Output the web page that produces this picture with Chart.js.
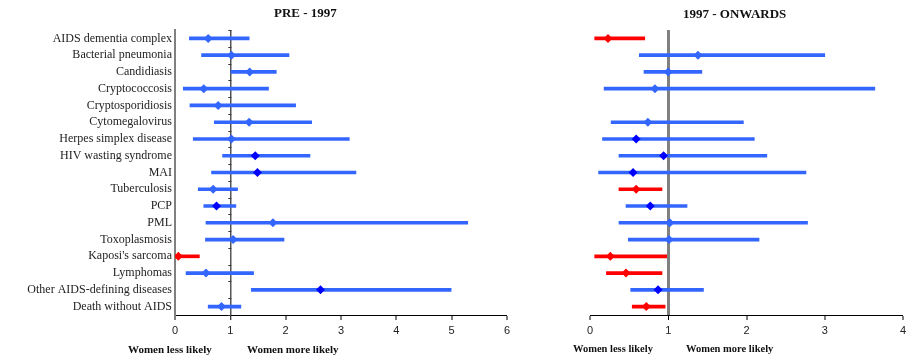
<!DOCTYPE html>
<html>
<head>
<meta charset="utf-8">
<script src="https://cdn.jsdelivr.net/npm/chart.js@4.4.0/dist/chart.umd.min.js"></script>
<style>
  body { margin: 0; background: #fff; }
  #wrap { position: relative; width: 914px; height: 358px; overflow: hidden; }
  canvas { position: absolute; top: 0; }
  .lbl { position: absolute; font-family: "Liberation Serif", serif; font-weight: bold; color: #111; white-space: nowrap; }
</style>
</head>
<body>
<div id="wrap">
  <canvas id="pre" width="560" height="358" style="left:0"></canvas>
  <canvas id="post" width="354" height="358" style="left:560px"></canvas>
  <div class="lbl" style="left:274px; top:5px; font-size:13px;">PRE - 1997</div>
  <div class="lbl" style="left:683px; top:6px; font-size:13px;">1997 - ONWARDS</div>
  <div class="lbl" style="left:128px; top:343px; font-size:11px;">Women less likely</div>
  <div class="lbl" style="left:247px; top:343px; font-size:11px;">Women more likely</div>
  <div class="lbl" style="left:573px; top:343px; font-size:10.5px;">Women less likely</div>
  <div class="lbl" style="left:686px; top:343px; font-size:10.5px;">Women more likely</div>
</div>
<script>
var categories = ["AIDS dementia complex", "Bacterial pneumonia", "Candidiasis", "Cryptococcosis",
  "Cryptosporidiosis", "Cytomegalovirus", "Herpes simplex disease", "HIV wasting syndrome", "MAI",
  "Tuberculosis", "PCP", "PML", "Toxoplasmosis", "Kaposi's sarcoma", "Lymphomas",
  "Other AIDS-defining diseases", "Death without AIDS"];

// pre-1997 relative hazard and 95% CI
var preEst   = [0.60, 1.02, 1.35, 0.52, 0.78, 1.34, 1.02, 1.45, 1.49, 0.69, 0.75, 1.77, 1.05, 0.06, 0.56, 2.63, 0.84];
var preLow   = [0.26, 0.48, 1.01, 0.15, 0.27, 0.71, 0.33, 0.86, 0.66, 0.42, 0.52, 0.56, 0.55, 0.01, 0.20, 1.38, 0.60];
var preHigh  = [1.34, 2.06, 1.83, 1.69, 2.18, 2.47, 3.15, 2.44, 3.27, 1.13, 1.10, 5.29, 1.97, 0.44, 1.42, 4.99, 1.19];
// marker class: 0 = normal, 1 = dark marker, 2 = significantly lower
var preClass = [0, 0, 0, 0, 0, 0, 0, 1, 1, 0, 1, 0, 0, 2, 0, 1, 0];

// 1997 onwards
var postEst   = [0.23, 1.38, 1.00, 0.83, null, 0.74, 0.59, 0.94, 0.55, 0.59, 0.77, 1.02, 1.01, 0.26, 0.46, 0.87, 0.72];
var postLow   = [0.06, 0.63, 0.69, 0.18, null, 0.27, 0.16, 0.37, 0.11, 0.37, 0.46, 0.37, 0.49, 0.06, 0.21, 0.52, 0.54];
var postHigh  = [0.70, 3.00, 1.43, 3.64, null, 1.96, 2.10, 2.26, 2.76, 0.92, 1.24, 2.78, 2.16, 0.98, 0.92, 1.45, 0.96];
var postClass = [2, 0, 0, 0, 0, 0, 1, 1, 1, 2, 1, 0, 0, 2, 2, 1, 2];

var preTicks = [0, 1, 2, 3, 4, 5, 6];
var postTicks = [0, 1, 2, 3, 4];

var LIGHT = "#3366ff", DARK = "#0000ff", RED = "#ff0000";
Chart.defaults.font.family = "'Liberation Sans', Arial, sans-serif";
Chart.defaults.animation = false;

function lineColor(c) { return c === 2 ? RED : LIGHT; }
function markColor(c) { return c === 2 ? RED : (c === 1 ? DARK : LIGHT); }

// small tick marks along the reference line at 1 (left panel)
var refTicks = {
  id: "refTicks",
  beforeDatasetsDraw: function (chart) {
    if (!chart.options.plugins.refTicks.on) return;
    var ctx = chart.ctx, x = chart.scales.x.getPixelForValue(1), y = chart.scales.y;
    ctx.save();
    ctx.strokeStyle = "#333";
    ctx.lineWidth = 1;
    for (var i = 0; i <= categories.length; i++) {
      var py = Math.round(y.getPixelForValue(i - 0.5)) + 0.5;
      ctx.beginPath();
      ctx.moveTo(x - 2, py);
      ctx.lineTo(x + 1, py);
      ctx.stroke();
    }
    ctx.restore();
  }
};

function makeChart(id, est, low, high, cls, ticks, opts) {
  var ranges = low.map(function (v, i) { return v === null ? null : [v, high[i]]; });
  return new Chart(document.getElementById(id), {
    type: "bar",
    data: {
      labels: categories,
      datasets: [
        {
          type: "line",
          data: est,
          showLine: false,
          pointStyle: "rectRot",
          pointRadius: 4.5,
          pointBorderWidth: 0,
          pointBackgroundColor: cls.map(markColor),
          pointBorderColor: cls.map(markColor),
          order: 0
        },
        {
          data: ranges,
          backgroundColor: cls.map(lineColor),
          barThickness: 3,
          borderSkipped: false,
          order: 1
        }
      ]
    },
    plugins: [refTicks],
    options: {
      responsive: false,
      indexAxis: "y",
      layout: { padding: opts.padding },
      plugins: {
        legend: { display: false },
        tooltip: { enabled: false },
        refTicks: { on: opts.refTicks }
      },
      scales: {
        x: {
          type: "linear",
          min: ticks[0],
          max: ticks[ticks.length - 1],
          afterBuildTicks: function (s) { s.ticks = ticks.map(function (v) { return { value: v }; }); },
          afterFit: function (s) { s.height = 43; },
          ticks: { color: "#222", font: { size: 11 }, padding: 4 },
          grid: {
            color: function (c) { return c.tick && c.tick.value === 1 ? opts.refColor : "rgba(0,0,0,0)"; },
            lineWidth: function (c) { return c.tick && c.tick.value === 1 ? opts.refWidth : 0; },
            tickColor: "#000",
            tickWidth: 1,
            tickLength: 5
          },
          border: { display: true, color: "#000", width: 1 }
        },
        y: {
          display: opts.showY,
          afterFit: function (s) { s.width = opts.showY ? 175 : 0; },
          ticks: { color: "#222", font: { family: "'Liberation Serif', 'Times New Roman', serif", size: 12 }, padding: 3, autoSkip: false },
          grid: { color: "rgba(0,0,0,0)", drawTicks: false, tickLength: 0 },
          border: { display: true, color: "#808080", width: 2 }
        }
      }
    }
  });
}

makeChart("pre", preEst, preLow, preHigh, preClass, preTicks,
  { padding: { top: 30, right: 53, left: 0, bottom: 0 }, showY: true, refTicks: true, refColor: "#555", refWidth: 1.5 });
makeChart("post", postEst, postLow, postHigh, postClass, postTicks,
  { padding: { top: 30, right: 11, left: 30, bottom: 0 }, showY: false, refTicks: false, refColor: "#808080", refWidth: 3 });
</script>
</body>
</html>
